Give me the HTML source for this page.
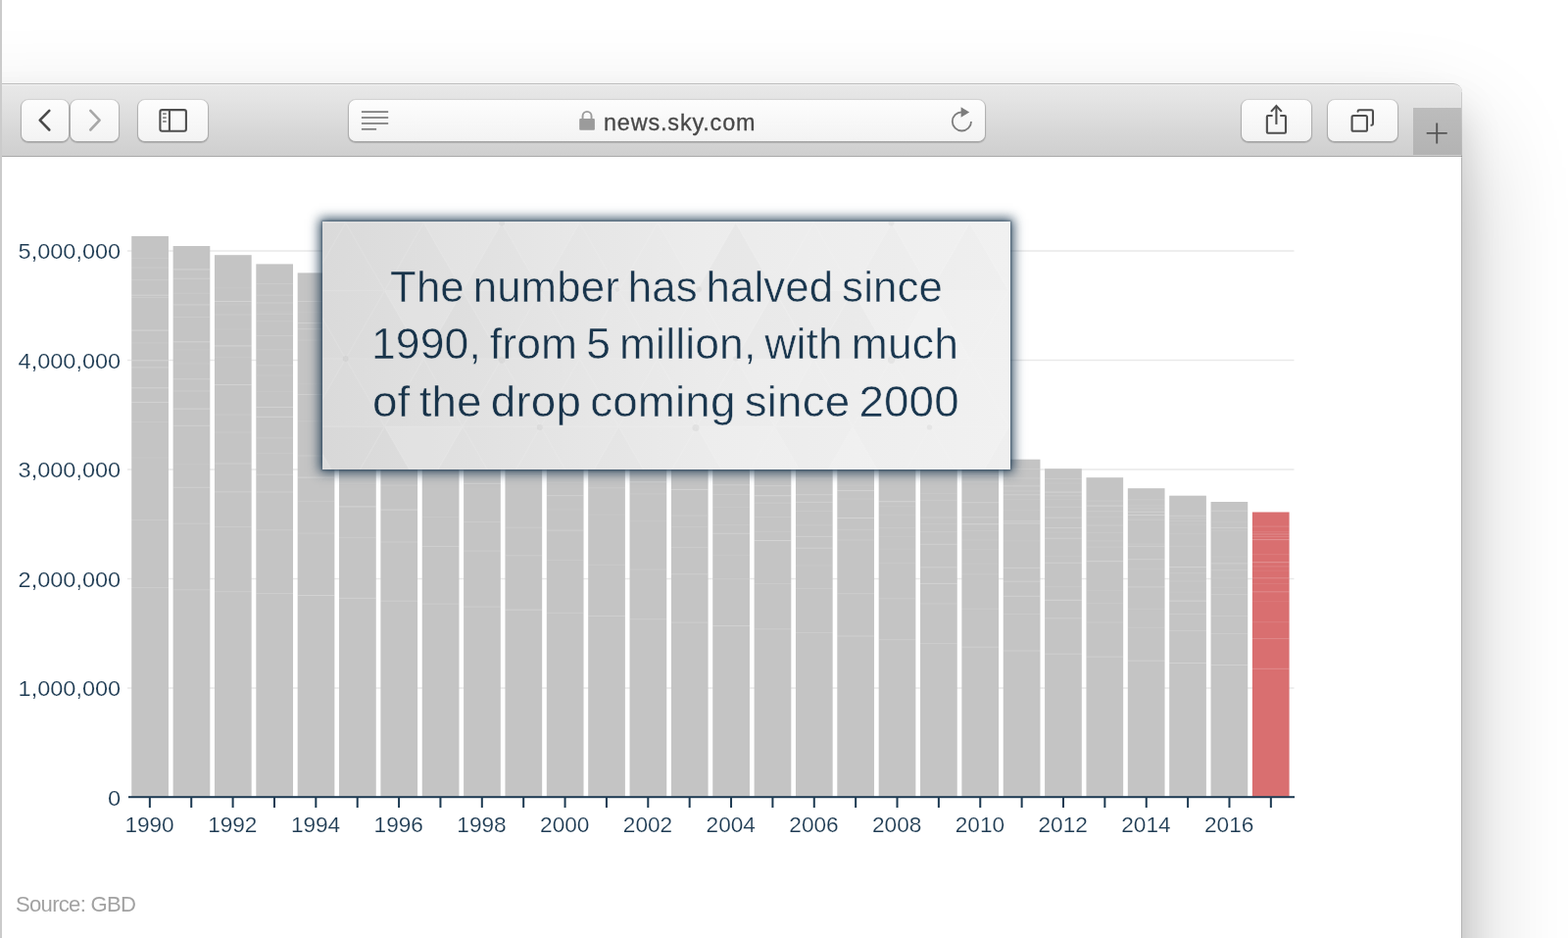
<!DOCTYPE html>
<html lang="en">
<head>
<meta charset="utf-8">
<title>news.sky.com</title>
<style>
*{box-sizing:border-box;margin:0;padding:0}
html,body{width:1600px;height:957px;overflow:hidden;background:#fff}
body{position:relative;font-family:"Liberation Sans",sans-serif}
.desk{position:absolute;left:0;top:0;width:1600px;height:957px;background:#fff;overflow:hidden}
.edge{position:absolute;left:0;top:0;width:2px;height:957px;background:#cbcbcb;z-index:9}
.win{position:absolute;left:-80px;top:85px;width:1571.8px;height:1100px;background:#fff;border-radius:9px;
  box-shadow:0 26px 40px rgba(0,0,0,.15),0 56px 110px rgba(0,0,0,.24);}
.win:after{content:"";position:absolute;top:9px;right:0;bottom:0;width:1px;background:linear-gradient(rgba(0,0,0,.1) 0,rgba(0,0,0,.12) 66px,rgba(0,0,0,.3) 67px);pointer-events:none}
.bar{position:absolute;left:0;top:0;right:0;height:75px;border-radius:9px 9px 0 0;
  background:linear-gradient(#e8e8e8 0,#e4e4e4 20%,#d6d6d6 70%,#cfcfcf 100%);
  border-top:1px solid #bdbdbd;border-bottom:1px solid #a9a9a9;box-shadow:inset 0 1px 0 #f1f1f1}
.btn{position:absolute;top:101.6px;height:42.2px;border-radius:7px;
  background:linear-gradient(#fdfdfd,#f3f3f3);
  box-shadow:0 0 0 1.2px rgba(0,0,0,.05),0 1.2px 1px .4px rgba(0,0,0,.17)}
.icons{position:absolute;left:0;top:0}
.btn .t{position:absolute;left:260.4px;top:10.1px;font-size:23.4px;line-height:26px;color:#484848;letter-spacing:.85px;white-space:nowrap;-webkit-text-stroke:.3px #484848}
.plus{position:absolute;left:1442px;top:110px;width:48.5px;height:48.4px;background:linear-gradient(#bcbcbc,#b3b3b3);}
.chart{position:absolute;left:0;top:0}
.pat{position:absolute;left:0;top:0;overflow:hidden}
.yl,.xl{font-family:"Liberation Sans",sans-serif;font-size:22.6px;fill:#1d3a52;stroke:#fff;stroke-width:.18px}
.tip{position:absolute;left:329px;top:225.5px;width:702px;height:253.5px;
  background:linear-gradient(90deg,#dadada 0,#e2e2e2 25%,#ebebeb 55%,#f1f1f1 100%);
  box-shadow:0 0 2px 1px rgba(29,58,82,.45),0 0 11px 3px rgba(29,58,82,.9);overflow:visible}
.tip p{position:absolute;font-size:43.7px;line-height:60px;color:#1b3a54;white-space:pre;word-spacing:-3.5px;letter-spacing:.15px;transform-origin:0 0;-webkit-text-stroke:.5px #fff;mix-blend-mode:multiply}
.src{position:absolute;left:16px;top:909.8px;font-size:22.1px;line-height:26px;color:#a2a2a2;letter-spacing:-.72px;white-space:nowrap}
</style>
</head>
<body>
<div class="desk">
  <div class="win"><div class="bar"></div></div>
  <div class="edge"></div>

  <div class="btn" style="left:21.6px;width:48.4px"></div>
  <div class="btn" style="left:72.1px;width:48.5px"></div>
  <div class="btn" style="left:141px;width:71.4px"></div>
  <div class="btn" style="left:355.6px;width:649.5px"><div class="t">news.sky.com</div></div>
  <div class="btn" style="left:1266.7px;width:71.1px"></div>
  <div class="btn" style="left:1354.8px;width:70.8px"></div>
  <div class="plus"></div>
  <svg class="icons" width="1600" height="170" viewBox="0 0 1600 170" fill="none">
    <path d="M50.3 112.9 L40.7 122.7 L50.3 132.5" stroke="#4a4a4a" stroke-width="2.6" stroke-linecap="round" stroke-linejoin="round"/>
    <path d="M92.3 112.9 L101.6 122.7 L92.3 132.5" stroke="#a7a7a7" stroke-width="2.6" stroke-linecap="round" stroke-linejoin="round"/>
    <rect x="163.4" y="112.1" width="26.5" height="21.6" rx="2" stroke="#4e4e4e" stroke-width="2.1"/>
    <rect x="171.85" y="112.1" width="2.1" height="21.6" fill="#4e4e4e"/>
    <g fill="#777"><rect x="166.1" y="115.3" width="3.6" height="1.6"/><rect x="166.1" y="119.3" width="3.6" height="1.6"/><rect x="166.1" y="123.2" width="3.6" height="1.6"/></g>
    <g fill="#7a7a7a"><rect x="368.9" y="113.25" width="27.3" height="1.7"/><rect x="368.9" y="119.15" width="27.3" height="1.7"/><rect x="368.9" y="125.1" width="27.3" height="1.7"/><rect x="368.9" y="130.95" width="15.2" height="1.7"/></g>
    <rect x="591.2" y="120.9" width="15.7" height="11.8" rx="1" fill="#9b9b9b"/>
    <path d="M594.55 121.5 v-3.1 a4.5 4.5 0 0 1 9 0 v3.1" stroke="#9b9b9b" stroke-width="1.9"/>
    <path d="M991 123.9 A9.6 9.6 0 1 1 981.4 114.3" stroke="#7c7c7c" stroke-width="1.8"/>
    <path d="M980.6 109.2 L989.2 114.4 L980.6 119.7 Z" fill="#7c7c7c"/>
    <g stroke="#4e4e4e" stroke-width="2.1" stroke-linejoin="round">
      <path d="M1298.6 118.05 H1293.85 a1 1 0 0 0 -1 1 V134.75 a1 1 0 0 0 1 1 H1310.95 a1 1 0 0 0 1 -1 V119.05 a1 1 0 0 0 -1 -1 H1306.2"/>
      <path d="M1302.4 126.9 V108.3"/>
      <path d="M1297 113.9 L1302.4 108.1 L1307.8 113.9" stroke-linejoin="miter"/>
      <rect x="1379.55" y="118.05" width="15.4" height="15.7" rx="1.6"/>
      <path d="M1385.55 113.6 V113.65 a1.4 1.4 0 0 1 1.4 -1.4 H1399.55 a1.4 1.4 0 0 1 1.4 1.4 V126.35 a1.4 1.4 0 0 1 -1.4 1.4 H1398.5"/>
    </g>
    <path d="M1455.7 135.9 H1476.7 M1466.2 125.4 V146.4" stroke="#555" stroke-width="1.9"/>
  </svg>

  <svg class="chart" width="1600" height="957" viewBox="0 0 1600 957">
<g fill="#e9e9e9"><rect x="130" y="255.25" width="1190.5" height="1.5"/><rect x="130" y="366.75" width="1190.5" height="1.5"/><rect x="130" y="478.25" width="1190.5" height="1.5"/><rect x="130" y="589.75" width="1190.5" height="1.5"/><rect x="130" y="701.25" width="1190.5" height="1.5"/></g>
<g><rect x="134.25" y="240.90" width="37.7" height="571.80" fill="#c4c4c4"/><rect x="176.61" y="251.00" width="37.7" height="561.70" fill="#c4c4c4"/><rect x="218.96" y="260.20" width="37.7" height="552.50" fill="#c4c4c4"/><rect x="261.32" y="269.40" width="37.7" height="543.30" fill="#c4c4c4"/><rect x="303.68" y="278.40" width="37.7" height="534.30" fill="#c4c4c4"/><rect x="346.03" y="289.59" width="37.7" height="523.11" fill="#c4c4c4"/><rect x="388.39" y="300.79" width="37.7" height="511.91" fill="#c4c4c4"/><rect x="430.75" y="311.98" width="37.7" height="500.72" fill="#c4c4c4"/><rect x="473.11" y="323.18" width="37.7" height="489.52" fill="#c4c4c4"/><rect x="515.46" y="334.37" width="37.7" height="478.33" fill="#c4c4c4"/><rect x="557.82" y="345.56" width="37.7" height="467.14" fill="#c4c4c4"/><rect x="600.18" y="356.76" width="37.7" height="455.94" fill="#c4c4c4"/><rect x="642.53" y="367.95" width="37.7" height="444.75" fill="#c4c4c4"/><rect x="684.89" y="379.15" width="37.7" height="433.55" fill="#c4c4c4"/><rect x="727.25" y="390.34" width="37.7" height="422.36" fill="#c4c4c4"/><rect x="769.61" y="401.54" width="37.7" height="411.16" fill="#c4c4c4"/><rect x="811.96" y="412.73" width="37.7" height="399.97" fill="#c4c4c4"/><rect x="854.32" y="423.92" width="37.7" height="388.78" fill="#c4c4c4"/><rect x="896.68" y="435.12" width="37.7" height="377.58" fill="#c4c4c4"/><rect x="939.03" y="446.31" width="37.7" height="366.39" fill="#c4c4c4"/><rect x="981.39" y="457.51" width="37.7" height="355.19" fill="#c4c4c4"/><rect x="1023.75" y="468.70" width="37.7" height="344.00" fill="#c4c4c4"/><rect x="1066.10" y="478.20" width="37.7" height="334.50" fill="#c4c4c4"/><rect x="1108.46" y="487.20" width="37.7" height="325.50" fill="#c4c4c4"/><rect x="1150.82" y="498.20" width="37.7" height="314.50" fill="#c4c4c4"/><rect x="1193.17" y="505.70" width="37.7" height="307.00" fill="#c4c4c4"/><rect x="1235.53" y="512.00" width="37.7" height="300.70" fill="#c4c4c4"/><rect x="1277.89" y="522.50" width="37.7" height="290.20" fill="#d96f70"/></g>
<g fill="#fff"><rect x="134.25" y="599.1" width="37.7" height="1" opacity="0.17"/><rect x="134.25" y="530.0" width="37.7" height="1" opacity="0.12"/><rect x="134.25" y="466.3" width="37.7" height="1" opacity="0.07"/><rect x="134.25" y="429.9" width="37.7" height="1" opacity="0.10"/><rect x="134.25" y="409.9" width="37.7" height="1" opacity="0.26"/><rect x="134.25" y="395.3" width="37.7" height="1" opacity="0.26"/><rect x="134.25" y="374.4" width="37.7" height="1" opacity="0.20"/><rect x="134.25" y="367.3" width="37.7" height="1" opacity="0.26"/><rect x="134.25" y="349.4" width="37.7" height="1" opacity="0.10"/><rect x="134.25" y="336.6" width="37.7" height="1" opacity="0.26"/><rect x="134.25" y="303.1" width="37.7" height="1" opacity="0.14"/><rect x="134.25" y="300.7" width="37.7" height="1" opacity="0.26"/><rect x="134.25" y="285.2" width="37.7" height="1" opacity="0.14"/><rect x="134.25" y="272.6" width="37.7" height="1" opacity="0.14"/><rect x="134.25" y="263.1" width="37.7" height="1" opacity="0.10"/><rect x="176.61" y="601.3" width="37.7" height="1" opacity="0.15"/><rect x="176.61" y="533.7" width="37.7" height="1" opacity="0.13"/><rect x="176.61" y="496.8" width="37.7" height="1" opacity="0.20"/><rect x="176.61" y="473.3" width="37.7" height="1" opacity="0.07"/><rect x="176.61" y="433.8" width="37.7" height="1" opacity="0.20"/><rect x="176.61" y="416.6" width="37.7" height="1" opacity="0.26"/><rect x="176.61" y="398.5" width="37.7" height="1" opacity="0.14"/><rect x="176.61" y="386.3" width="37.7" height="1" opacity="0.20"/><rect x="176.61" y="370.5" width="37.7" height="1" opacity="0.07"/><rect x="176.61" y="356.4" width="37.7" height="1" opacity="0.07"/><rect x="176.61" y="348.3" width="37.7" height="1" opacity="0.26"/><rect x="176.61" y="323.1" width="37.7" height="1" opacity="0.14"/><rect x="176.61" y="310.7" width="37.7" height="1" opacity="0.14"/><rect x="176.61" y="310.1" width="37.7" height="1" opacity="0.10"/><rect x="176.61" y="298.7" width="37.7" height="1" opacity="0.10"/><rect x="176.61" y="283.7" width="37.7" height="1" opacity="0.20"/><rect x="176.61" y="274.4" width="37.7" height="1" opacity="0.26"/><rect x="218.96" y="603.2" width="37.7" height="1" opacity="0.17"/><rect x="218.96" y="537.0" width="37.7" height="1" opacity="0.12"/><rect x="218.96" y="501.4" width="37.7" height="1" opacity="0.20"/><rect x="218.96" y="472.5" width="37.7" height="1" opacity="0.20"/><rect x="218.96" y="440.5" width="37.7" height="1" opacity="0.10"/><rect x="218.96" y="422.6" width="37.7" height="1" opacity="0.10"/><rect x="218.96" y="392.1" width="37.7" height="1" opacity="0.26"/><rect x="218.96" y="364.1" width="37.7" height="1" opacity="0.07"/><rect x="218.96" y="352.4" width="37.7" height="1" opacity="0.26"/><rect x="218.96" y="335.4" width="37.7" height="1" opacity="0.07"/><rect x="218.96" y="320.5" width="37.7" height="1" opacity="0.10"/><rect x="218.96" y="310.4" width="37.7" height="1" opacity="0.07"/><rect x="218.96" y="307.0" width="37.7" height="1" opacity="0.26"/><rect x="218.96" y="293.4" width="37.7" height="1" opacity="0.07"/><rect x="261.32" y="605.1" width="37.7" height="1" opacity="0.18"/><rect x="261.32" y="540.3" width="37.7" height="1" opacity="0.15"/><rect x="261.32" y="501.5" width="37.7" height="1" opacity="0.20"/><rect x="261.32" y="483.7" width="37.7" height="1" opacity="0.20"/><rect x="261.32" y="462.3" width="37.7" height="1" opacity="0.10"/><rect x="261.32" y="446.4" width="37.7" height="1" opacity="0.14"/><rect x="261.32" y="424.8" width="37.7" height="1" opacity="0.26"/><rect x="261.32" y="414.9" width="37.7" height="1" opacity="0.26"/><rect x="261.32" y="398.9" width="37.7" height="1" opacity="0.07"/><rect x="261.32" y="382.5" width="37.7" height="1" opacity="0.07"/><rect x="261.32" y="372.3" width="37.7" height="1" opacity="0.14"/><rect x="261.32" y="356.2" width="37.7" height="1" opacity="0.10"/><rect x="261.32" y="342.0" width="37.7" height="1" opacity="0.14"/><rect x="261.32" y="327.3" width="37.7" height="1" opacity="0.10"/><rect x="261.32" y="320.1" width="37.7" height="1" opacity="0.10"/><rect x="261.32" y="318.3" width="37.7" height="1" opacity="0.07"/><rect x="261.32" y="308.5" width="37.7" height="1" opacity="0.20"/><rect x="261.32" y="300.7" width="37.7" height="1" opacity="0.14"/><rect x="261.32" y="289.1" width="37.7" height="1" opacity="0.14"/><rect x="303.68" y="607.0" width="37.7" height="1" opacity="0.24"/><rect x="303.68" y="543.6" width="37.7" height="1" opacity="0.13"/><rect x="303.68" y="511.1" width="37.7" height="1" opacity="0.10"/><rect x="303.68" y="486.6" width="37.7" height="1" opacity="0.26"/><rect x="303.68" y="464.5" width="37.7" height="1" opacity="0.14"/><rect x="303.68" y="429.2" width="37.7" height="1" opacity="0.10"/><rect x="303.68" y="402.0" width="37.7" height="1" opacity="0.20"/><rect x="303.68" y="391.4" width="37.7" height="1" opacity="0.07"/><rect x="303.68" y="346.6" width="37.7" height="1" opacity="0.10"/><rect x="303.68" y="335.2" width="37.7" height="1" opacity="0.20"/><rect x="303.68" y="329.1" width="37.7" height="1" opacity="0.26"/><rect x="303.68" y="318.1" width="37.7" height="1" opacity="0.07"/><rect x="303.68" y="307.0" width="37.7" height="1" opacity="0.20"/><rect x="346.03" y="609.8" width="37.7" height="1" opacity="0.23"/><rect x="346.03" y="548.0" width="37.7" height="1" opacity="0.11"/><rect x="346.03" y="516.4" width="37.7" height="1" opacity="0.26"/><rect x="346.03" y="492.6" width="37.7" height="1" opacity="0.10"/><rect x="346.03" y="476.7" width="37.7" height="1" opacity="0.20"/><rect x="346.03" y="454.4" width="37.7" height="1" opacity="0.26"/><rect x="346.03" y="438.3" width="37.7" height="1" opacity="0.26"/><rect x="346.03" y="412.1" width="37.7" height="1" opacity="0.10"/><rect x="346.03" y="398.6" width="37.7" height="1" opacity="0.10"/><rect x="346.03" y="391.6" width="37.7" height="1" opacity="0.07"/><rect x="346.03" y="375.0" width="37.7" height="1" opacity="0.26"/><rect x="346.03" y="358.8" width="37.7" height="1" opacity="0.07"/><rect x="346.03" y="337.0" width="37.7" height="1" opacity="0.07"/><rect x="346.03" y="328.5" width="37.7" height="1" opacity="0.20"/><rect x="346.03" y="319.0" width="37.7" height="1" opacity="0.26"/><rect x="346.03" y="307.9" width="37.7" height="1" opacity="0.20"/><rect x="388.39" y="612.7" width="37.7" height="1" opacity="0.19"/><rect x="388.39" y="552.5" width="37.7" height="1" opacity="0.17"/><rect x="388.39" y="519.6" width="37.7" height="1" opacity="0.26"/><rect x="388.39" y="494.6" width="37.7" height="1" opacity="0.14"/><rect x="388.39" y="476.8" width="37.7" height="1" opacity="0.10"/><rect x="388.39" y="447.8" width="37.7" height="1" opacity="0.07"/><rect x="388.39" y="431.4" width="37.7" height="1" opacity="0.10"/><rect x="388.39" y="419.0" width="37.7" height="1" opacity="0.10"/><rect x="388.39" y="404.6" width="37.7" height="1" opacity="0.14"/><rect x="388.39" y="400.3" width="37.7" height="1" opacity="0.20"/><rect x="388.39" y="386.4" width="37.7" height="1" opacity="0.20"/><rect x="388.39" y="354.3" width="37.7" height="1" opacity="0.20"/><rect x="388.39" y="346.5" width="37.7" height="1" opacity="0.20"/><rect x="388.39" y="346.2" width="37.7" height="1" opacity="0.14"/><rect x="388.39" y="344.0" width="37.7" height="1" opacity="0.20"/><rect x="388.39" y="326.7" width="37.7" height="1" opacity="0.26"/><rect x="388.39" y="317.8" width="37.7" height="1" opacity="0.07"/><rect x="430.75" y="615.6" width="37.7" height="1" opacity="0.15"/><rect x="430.75" y="557.0" width="37.7" height="1" opacity="0.17"/><rect x="430.75" y="527.0" width="37.7" height="1" opacity="0.07"/><rect x="430.75" y="484.4" width="37.7" height="1" opacity="0.10"/><rect x="430.75" y="467.1" width="37.7" height="1" opacity="0.14"/><rect x="430.75" y="453.1" width="37.7" height="1" opacity="0.26"/><rect x="430.75" y="439.8" width="37.7" height="1" opacity="0.07"/><rect x="430.75" y="429.8" width="37.7" height="1" opacity="0.10"/><rect x="430.75" y="403.3" width="37.7" height="1" opacity="0.14"/><rect x="430.75" y="396.3" width="37.7" height="1" opacity="0.07"/><rect x="430.75" y="368.7" width="37.7" height="1" opacity="0.20"/><rect x="430.75" y="356.9" width="37.7" height="1" opacity="0.10"/><rect x="430.75" y="357.3" width="37.7" height="1" opacity="0.07"/><rect x="430.75" y="347.4" width="37.7" height="1" opacity="0.10"/><rect x="430.75" y="340.7" width="37.7" height="1" opacity="0.14"/><rect x="473.11" y="618.6" width="37.7" height="1" opacity="0.18"/><rect x="473.11" y="561.6" width="37.7" height="1" opacity="0.16"/><rect x="473.11" y="532.1" width="37.7" height="1" opacity="0.14"/><rect x="473.11" y="492.8" width="37.7" height="1" opacity="0.26"/><rect x="473.11" y="476.5" width="37.7" height="1" opacity="0.07"/><rect x="473.11" y="458.7" width="37.7" height="1" opacity="0.20"/><rect x="473.11" y="447.7" width="37.7" height="1" opacity="0.26"/><rect x="473.11" y="412.5" width="37.7" height="1" opacity="0.10"/><rect x="473.11" y="403.0" width="37.7" height="1" opacity="0.07"/><rect x="473.11" y="374.2" width="37.7" height="1" opacity="0.20"/><rect x="473.11" y="361.8" width="37.7" height="1" opacity="0.14"/><rect x="473.11" y="360.2" width="37.7" height="1" opacity="0.07"/><rect x="473.11" y="340.5" width="37.7" height="1" opacity="0.14"/><rect x="515.46" y="621.7" width="37.7" height="1" opacity="0.24"/><rect x="515.46" y="566.3" width="37.7" height="1" opacity="0.15"/><rect x="515.46" y="537.7" width="37.7" height="1" opacity="0.14"/><rect x="515.46" y="484.8" width="37.7" height="1" opacity="0.10"/><rect x="515.46" y="436.1" width="37.7" height="1" opacity="0.10"/><rect x="515.46" y="426.5" width="37.7" height="1" opacity="0.10"/><rect x="515.46" y="410.3" width="37.7" height="1" opacity="0.26"/><rect x="515.46" y="397.4" width="37.7" height="1" opacity="0.20"/><rect x="515.46" y="387.1" width="37.7" height="1" opacity="0.10"/><rect x="515.46" y="382.8" width="37.7" height="1" opacity="0.26"/><rect x="515.46" y="373.4" width="37.7" height="1" opacity="0.26"/><rect x="515.46" y="373.4" width="37.7" height="1" opacity="0.26"/><rect x="515.46" y="359.1" width="37.7" height="1" opacity="0.07"/><rect x="515.46" y="348.7" width="37.7" height="1" opacity="0.10"/><rect x="557.82" y="624.8" width="37.7" height="1" opacity="0.15"/><rect x="557.82" y="570.9" width="37.7" height="1" opacity="0.11"/><rect x="557.82" y="540.6" width="37.7" height="1" opacity="0.20"/><rect x="557.82" y="519.3" width="37.7" height="1" opacity="0.07"/><rect x="557.82" y="505.1" width="37.7" height="1" opacity="0.20"/><rect x="557.82" y="491.9" width="37.7" height="1" opacity="0.07"/><rect x="557.82" y="473.1" width="37.7" height="1" opacity="0.26"/><rect x="557.82" y="466.3" width="37.7" height="1" opacity="0.20"/><rect x="557.82" y="442.9" width="37.7" height="1" opacity="0.10"/><rect x="557.82" y="434.2" width="37.7" height="1" opacity="0.20"/><rect x="557.82" y="420.4" width="37.7" height="1" opacity="0.20"/><rect x="557.82" y="403.5" width="37.7" height="1" opacity="0.07"/><rect x="557.82" y="393.8" width="37.7" height="1" opacity="0.07"/><rect x="557.82" y="389.0" width="37.7" height="1" opacity="0.14"/><rect x="557.82" y="381.3" width="37.7" height="1" opacity="0.07"/><rect x="557.82" y="368.8" width="37.7" height="1" opacity="0.14"/><rect x="557.82" y="360.2" width="37.7" height="1" opacity="0.20"/><rect x="600.18" y="628.0" width="37.7" height="1" opacity="0.19"/><rect x="600.18" y="575.7" width="37.7" height="1" opacity="0.11"/><rect x="600.18" y="524.6" width="37.7" height="1" opacity="0.07"/><rect x="600.18" y="497.3" width="37.7" height="1" opacity="0.14"/><rect x="600.18" y="482.9" width="37.7" height="1" opacity="0.10"/><rect x="600.18" y="459.0" width="37.7" height="1" opacity="0.14"/><rect x="600.18" y="452.1" width="37.7" height="1" opacity="0.26"/><rect x="600.18" y="430.3" width="37.7" height="1" opacity="0.20"/><rect x="600.18" y="401.5" width="37.7" height="1" opacity="0.20"/><rect x="600.18" y="395.4" width="37.7" height="1" opacity="0.14"/><rect x="600.18" y="394.5" width="37.7" height="1" opacity="0.20"/><rect x="600.18" y="383.0" width="37.7" height="1" opacity="0.07"/><rect x="600.18" y="369.8" width="37.7" height="1" opacity="0.14"/><rect x="642.53" y="631.3" width="37.7" height="1" opacity="0.15"/><rect x="642.53" y="580.5" width="37.7" height="1" opacity="0.13"/><rect x="642.53" y="531.2" width="37.7" height="1" opacity="0.07"/><rect x="642.53" y="503.4" width="37.7" height="1" opacity="0.10"/><rect x="642.53" y="491.3" width="37.7" height="1" opacity="0.26"/><rect x="642.53" y="480.4" width="37.7" height="1" opacity="0.20"/><rect x="642.53" y="466.4" width="37.7" height="1" opacity="0.20"/><rect x="642.53" y="455.7" width="37.7" height="1" opacity="0.26"/><rect x="642.53" y="435.8" width="37.7" height="1" opacity="0.26"/><rect x="642.53" y="423.5" width="37.7" height="1" opacity="0.14"/><rect x="642.53" y="414.2" width="37.7" height="1" opacity="0.26"/><rect x="642.53" y="411.8" width="37.7" height="1" opacity="0.14"/><rect x="642.53" y="405.8" width="37.7" height="1" opacity="0.14"/><rect x="642.53" y="402.1" width="37.7" height="1" opacity="0.20"/><rect x="642.53" y="390.7" width="37.7" height="1" opacity="0.10"/><rect x="684.89" y="634.6" width="37.7" height="1" opacity="0.19"/><rect x="684.89" y="585.3" width="37.7" height="1" opacity="0.17"/><rect x="684.89" y="558.1" width="37.7" height="1" opacity="0.14"/><rect x="684.89" y="537.1" width="37.7" height="1" opacity="0.10"/><rect x="684.89" y="525.5" width="37.7" height="1" opacity="0.10"/><rect x="684.89" y="498.9" width="37.7" height="1" opacity="0.26"/><rect x="684.89" y="474.7" width="37.7" height="1" opacity="0.26"/><rect x="684.89" y="468.5" width="37.7" height="1" opacity="0.07"/><rect x="684.89" y="458.6" width="37.7" height="1" opacity="0.14"/><rect x="684.89" y="449.9" width="37.7" height="1" opacity="0.10"/><rect x="684.89" y="437.0" width="37.7" height="1" opacity="0.20"/><rect x="684.89" y="424.6" width="37.7" height="1" opacity="0.14"/><rect x="684.89" y="417.4" width="37.7" height="1" opacity="0.07"/><rect x="684.89" y="416.9" width="37.7" height="1" opacity="0.20"/><rect x="684.89" y="408.9" width="37.7" height="1" opacity="0.07"/><rect x="684.89" y="402.2" width="37.7" height="1" opacity="0.26"/><rect x="684.89" y="391.7" width="37.7" height="1" opacity="0.10"/><rect x="727.25" y="638.0" width="37.7" height="1" opacity="0.22"/><rect x="727.25" y="590.2" width="37.7" height="1" opacity="0.12"/><rect x="727.25" y="566.2" width="37.7" height="1" opacity="0.07"/><rect x="727.25" y="543.8" width="37.7" height="1" opacity="0.20"/><rect x="727.25" y="535.0" width="37.7" height="1" opacity="0.07"/><rect x="727.25" y="517.0" width="37.7" height="1" opacity="0.07"/><rect x="727.25" y="504.0" width="37.7" height="1" opacity="0.10"/><rect x="727.25" y="494.3" width="37.7" height="1" opacity="0.20"/><rect x="727.25" y="477.8" width="37.7" height="1" opacity="0.26"/><rect x="727.25" y="469.2" width="37.7" height="1" opacity="0.26"/><rect x="727.25" y="459.6" width="37.7" height="1" opacity="0.20"/><rect x="727.25" y="445.4" width="37.7" height="1" opacity="0.10"/><rect x="727.25" y="433.9" width="37.7" height="1" opacity="0.10"/><rect x="727.25" y="432.2" width="37.7" height="1" opacity="0.14"/><rect x="727.25" y="419.7" width="37.7" height="1" opacity="0.07"/><rect x="727.25" y="413.5" width="37.7" height="1" opacity="0.14"/><rect x="769.61" y="641.4" width="37.7" height="1" opacity="0.17"/><rect x="769.61" y="595.1" width="37.7" height="1" opacity="0.14"/><rect x="769.61" y="551.0" width="37.7" height="1" opacity="0.26"/><rect x="769.61" y="541.8" width="37.7" height="1" opacity="0.10"/><rect x="769.61" y="527.0" width="37.7" height="1" opacity="0.10"/><rect x="769.61" y="512.7" width="37.7" height="1" opacity="0.14"/><rect x="769.61" y="505.2" width="37.7" height="1" opacity="0.26"/><rect x="769.61" y="495.2" width="37.7" height="1" opacity="0.20"/><rect x="769.61" y="475.6" width="37.7" height="1" opacity="0.07"/><rect x="769.61" y="467.5" width="37.7" height="1" opacity="0.10"/><rect x="769.61" y="454.1" width="37.7" height="1" opacity="0.10"/><rect x="769.61" y="444.2" width="37.7" height="1" opacity="0.14"/><rect x="769.61" y="438.1" width="37.7" height="1" opacity="0.10"/><rect x="769.61" y="429.6" width="37.7" height="1" opacity="0.07"/><rect x="769.61" y="423.7" width="37.7" height="1" opacity="0.14"/><rect x="769.61" y="412.5" width="37.7" height="1" opacity="0.07"/><rect x="811.96" y="645.0" width="37.7" height="1" opacity="0.14"/><rect x="811.96" y="600.1" width="37.7" height="1" opacity="0.13"/><rect x="811.96" y="576.5" width="37.7" height="1" opacity="0.07"/><rect x="811.96" y="558.7" width="37.7" height="1" opacity="0.20"/><rect x="811.96" y="546.9" width="37.7" height="1" opacity="0.20"/><rect x="811.96" y="535.4" width="37.7" height="1" opacity="0.10"/><rect x="811.96" y="520.9" width="37.7" height="1" opacity="0.10"/><rect x="811.96" y="511.9" width="37.7" height="1" opacity="0.20"/><rect x="811.96" y="504.2" width="37.7" height="1" opacity="0.20"/><rect x="811.96" y="487.4" width="37.7" height="1" opacity="0.14"/><rect x="811.96" y="462.5" width="37.7" height="1" opacity="0.14"/><rect x="811.96" y="450.9" width="37.7" height="1" opacity="0.14"/><rect x="811.96" y="448.0" width="37.7" height="1" opacity="0.14"/><rect x="811.96" y="446.1" width="37.7" height="1" opacity="0.26"/><rect x="811.96" y="440.0" width="37.7" height="1" opacity="0.07"/><rect x="811.96" y="435.8" width="37.7" height="1" opacity="0.20"/><rect x="811.96" y="424.9" width="37.7" height="1" opacity="0.20"/><rect x="854.32" y="648.5" width="37.7" height="1" opacity="0.22"/><rect x="854.32" y="605.2" width="37.7" height="1" opacity="0.17"/><rect x="854.32" y="550.5" width="37.7" height="1" opacity="0.10"/><rect x="854.32" y="539.8" width="37.7" height="1" opacity="0.14"/><rect x="854.32" y="528.0" width="37.7" height="1" opacity="0.26"/><rect x="854.32" y="508.5" width="37.7" height="1" opacity="0.07"/><rect x="854.32" y="500.1" width="37.7" height="1" opacity="0.26"/><rect x="854.32" y="494.7" width="37.7" height="1" opacity="0.07"/><rect x="854.32" y="481.5" width="37.7" height="1" opacity="0.07"/><rect x="854.32" y="474.2" width="37.7" height="1" opacity="0.20"/><rect x="854.32" y="459.6" width="37.7" height="1" opacity="0.10"/><rect x="854.32" y="453.7" width="37.7" height="1" opacity="0.07"/><rect x="854.32" y="451.1" width="37.7" height="1" opacity="0.14"/><rect x="854.32" y="443.3" width="37.7" height="1" opacity="0.14"/><rect x="854.32" y="438.5" width="37.7" height="1" opacity="0.10"/><rect x="896.68" y="652.2" width="37.7" height="1" opacity="0.16"/><rect x="896.68" y="610.3" width="37.7" height="1" opacity="0.13"/><rect x="896.68" y="574.2" width="37.7" height="1" opacity="0.10"/><rect x="896.68" y="559.7" width="37.7" height="1" opacity="0.07"/><rect x="896.68" y="546.8" width="37.7" height="1" opacity="0.07"/><rect x="896.68" y="538.1" width="37.7" height="1" opacity="0.10"/><rect x="896.68" y="525.1" width="37.7" height="1" opacity="0.07"/><rect x="896.68" y="516.2" width="37.7" height="1" opacity="0.07"/><rect x="896.68" y="511.2" width="37.7" height="1" opacity="0.26"/><rect x="896.68" y="481.7" width="37.7" height="1" opacity="0.07"/><rect x="896.68" y="475.3" width="37.7" height="1" opacity="0.26"/><rect x="896.68" y="452.9" width="37.7" height="1" opacity="0.07"/><rect x="896.68" y="445.9" width="37.7" height="1" opacity="0.14"/><rect x="939.03" y="655.9" width="37.7" height="1" opacity="0.16"/><rect x="939.03" y="615.4" width="37.7" height="1" opacity="0.13"/><rect x="939.03" y="594.9" width="37.7" height="1" opacity="0.26"/><rect x="939.03" y="578.4" width="37.7" height="1" opacity="0.20"/><rect x="939.03" y="554.8" width="37.7" height="1" opacity="0.20"/><rect x="939.03" y="542.2" width="37.7" height="1" opacity="0.14"/><rect x="939.03" y="534.0" width="37.7" height="1" opacity="0.07"/><rect x="939.03" y="527.5" width="37.7" height="1" opacity="0.14"/><rect x="939.03" y="510.1" width="37.7" height="1" opacity="0.10"/><rect x="939.03" y="503.0" width="37.7" height="1" opacity="0.07"/><rect x="939.03" y="479.0" width="37.7" height="1" opacity="0.10"/><rect x="939.03" y="474.9" width="37.7" height="1" opacity="0.20"/><rect x="939.03" y="466.8" width="37.7" height="1" opacity="0.14"/><rect x="981.39" y="659.7" width="37.7" height="1" opacity="0.17"/><rect x="981.39" y="620.6" width="37.7" height="1" opacity="0.12"/><rect x="981.39" y="585.4" width="37.7" height="1" opacity="0.10"/><rect x="981.39" y="574.6" width="37.7" height="1" opacity="0.07"/><rect x="981.39" y="559.9" width="37.7" height="1" opacity="0.07"/><rect x="981.39" y="550.5" width="37.7" height="1" opacity="0.07"/><rect x="981.39" y="540.9" width="37.7" height="1" opacity="0.10"/><rect x="981.39" y="534.2" width="37.7" height="1" opacity="0.26"/><rect x="981.39" y="527.3" width="37.7" height="1" opacity="0.20"/><rect x="981.39" y="512.2" width="37.7" height="1" opacity="0.20"/><rect x="981.39" y="490.6" width="37.7" height="1" opacity="0.10"/><rect x="981.39" y="491.7" width="37.7" height="1" opacity="0.07"/><rect x="981.39" y="484.7" width="37.7" height="1" opacity="0.20"/><rect x="981.39" y="482.8" width="37.7" height="1" opacity="0.14"/><rect x="981.39" y="474.5" width="37.7" height="1" opacity="0.10"/><rect x="981.39" y="469.5" width="37.7" height="1" opacity="0.20"/><rect x="1023.75" y="663.5" width="37.7" height="1" opacity="0.19"/><rect x="1023.75" y="625.9" width="37.7" height="1" opacity="0.12"/><rect x="1023.75" y="607.8" width="37.7" height="1" opacity="0.20"/><rect x="1023.75" y="592.7" width="37.7" height="1" opacity="0.20"/><rect x="1023.75" y="578.9" width="37.7" height="1" opacity="0.20"/><rect x="1023.75" y="551.3" width="37.7" height="1" opacity="0.07"/><rect x="1023.75" y="533.5" width="37.7" height="1" opacity="0.26"/><rect x="1023.75" y="531.3" width="37.7" height="1" opacity="0.20"/><rect x="1023.75" y="520.2" width="37.7" height="1" opacity="0.07"/><rect x="1023.75" y="509.2" width="37.7" height="1" opacity="0.07"/><rect x="1023.75" y="504.3" width="37.7" height="1" opacity="0.20"/><rect x="1023.75" y="500.5" width="37.7" height="1" opacity="0.10"/><rect x="1023.75" y="494.8" width="37.7" height="1" opacity="0.10"/><rect x="1023.75" y="495.6" width="37.7" height="1" opacity="0.14"/><rect x="1023.75" y="487.4" width="37.7" height="1" opacity="0.14"/><rect x="1023.75" y="477.9" width="37.7" height="1" opacity="0.14"/><rect x="1066.10" y="666.7" width="37.7" height="1" opacity="0.19"/><rect x="1066.10" y="630.3" width="37.7" height="1" opacity="0.17"/><rect x="1066.10" y="611.8" width="37.7" height="1" opacity="0.26"/><rect x="1066.10" y="598.2" width="37.7" height="1" opacity="0.10"/><rect x="1066.10" y="573.8" width="37.7" height="1" opacity="0.20"/><rect x="1066.10" y="566.9" width="37.7" height="1" opacity="0.07"/><rect x="1066.10" y="548.7" width="37.7" height="1" opacity="0.20"/><rect x="1066.10" y="542.6" width="37.7" height="1" opacity="0.07"/><rect x="1066.10" y="538.0" width="37.7" height="1" opacity="0.20"/><rect x="1066.10" y="527.6" width="37.7" height="1" opacity="0.20"/><rect x="1066.10" y="516.8" width="37.7" height="1" opacity="0.14"/><rect x="1066.10" y="509.2" width="37.7" height="1" opacity="0.07"/><rect x="1066.10" y="505.3" width="37.7" height="1" opacity="0.14"/><rect x="1066.10" y="501.6" width="37.7" height="1" opacity="0.26"/><rect x="1066.10" y="492.7" width="37.7" height="1" opacity="0.07"/><rect x="1066.10" y="487.9" width="37.7" height="1" opacity="0.14"/><rect x="1108.46" y="669.6" width="37.7" height="1" opacity="0.20"/><rect x="1108.46" y="634.4" width="37.7" height="1" opacity="0.14"/><rect x="1108.46" y="615.2" width="37.7" height="1" opacity="0.10"/><rect x="1108.46" y="602.2" width="37.7" height="1" opacity="0.07"/><rect x="1108.46" y="572.2" width="37.7" height="1" opacity="0.26"/><rect x="1108.46" y="557.6" width="37.7" height="1" opacity="0.10"/><rect x="1108.46" y="551.4" width="37.7" height="1" opacity="0.10"/><rect x="1108.46" y="543.0" width="37.7" height="1" opacity="0.07"/><rect x="1108.46" y="535.5" width="37.7" height="1" opacity="0.14"/><rect x="1108.46" y="527.2" width="37.7" height="1" opacity="0.07"/><rect x="1108.46" y="521.2" width="37.7" height="1" opacity="0.14"/><rect x="1108.46" y="515.6" width="37.7" height="1" opacity="0.26"/><rect x="1108.46" y="510.5" width="37.7" height="1" opacity="0.10"/><rect x="1150.82" y="673.6" width="37.7" height="1" opacity="0.23"/><rect x="1150.82" y="639.7" width="37.7" height="1" opacity="0.11"/><rect x="1150.82" y="620.8" width="37.7" height="1" opacity="0.10"/><rect x="1150.82" y="598.4" width="37.7" height="1" opacity="0.20"/><rect x="1150.82" y="580.2" width="37.7" height="1" opacity="0.07"/><rect x="1150.82" y="570.2" width="37.7" height="1" opacity="0.20"/><rect x="1150.82" y="556.8" width="37.7" height="1" opacity="0.20"/><rect x="1150.82" y="554.6" width="37.7" height="1" opacity="0.10"/><rect x="1150.82" y="529.7" width="37.7" height="1" opacity="0.14"/><rect x="1150.82" y="525.0" width="37.7" height="1" opacity="0.26"/><rect x="1150.82" y="521.7" width="37.7" height="1" opacity="0.26"/><rect x="1150.82" y="518.5" width="37.7" height="1" opacity="0.10"/><rect x="1150.82" y="515.4" width="37.7" height="1" opacity="0.10"/><rect x="1150.82" y="509.3" width="37.7" height="1" opacity="0.10"/><rect x="1193.17" y="676.0" width="37.7" height="1" opacity="0.23"/><rect x="1193.17" y="643.1" width="37.7" height="1" opacity="0.16"/><rect x="1193.17" y="626.0" width="37.7" height="1" opacity="0.14"/><rect x="1193.17" y="612.6" width="37.7" height="1" opacity="0.26"/><rect x="1193.17" y="603.6" width="37.7" height="1" opacity="0.07"/><rect x="1193.17" y="592.4" width="37.7" height="1" opacity="0.10"/><rect x="1193.17" y="584.2" width="37.7" height="1" opacity="0.10"/><rect x="1193.17" y="578.1" width="37.7" height="1" opacity="0.26"/><rect x="1193.17" y="556.8" width="37.7" height="1" opacity="0.10"/><rect x="1193.17" y="544.2" width="37.7" height="1" opacity="0.07"/><rect x="1193.17" y="534.7" width="37.7" height="1" opacity="0.07"/><rect x="1193.17" y="531.1" width="37.7" height="1" opacity="0.10"/><rect x="1193.17" y="528.0" width="37.7" height="1" opacity="0.07"/><rect x="1193.17" y="525.8" width="37.7" height="1" opacity="0.20"/><rect x="1235.53" y="678.0" width="37.7" height="1" opacity="0.22"/><rect x="1235.53" y="645.9" width="37.7" height="1" opacity="0.17"/><rect x="1235.53" y="627.9" width="37.7" height="1" opacity="0.14"/><rect x="1235.53" y="606.1" width="37.7" height="1" opacity="0.14"/><rect x="1235.53" y="598.8" width="37.7" height="1" opacity="0.07"/><rect x="1235.53" y="589.4" width="37.7" height="1" opacity="0.07"/><rect x="1235.53" y="581.2" width="37.7" height="1" opacity="0.14"/><rect x="1235.53" y="574.4" width="37.7" height="1" opacity="0.20"/><rect x="1235.53" y="567.4" width="37.7" height="1" opacity="0.07"/><rect x="1235.53" y="540.8" width="37.7" height="1" opacity="0.07"/><rect x="1235.53" y="537.9" width="37.7" height="1" opacity="0.20"/><rect x="1235.53" y="532.1" width="37.7" height="1" opacity="0.07"/><rect x="1235.53" y="520.7" width="37.7" height="1" opacity="0.20"/><rect x="1277.89" y="681.8" width="37.7" height="1" opacity="0.20"/><rect x="1277.89" y="651.1" width="37.7" height="1" opacity="0.18"/><rect x="1277.89" y="634.2" width="37.7" height="1" opacity="0.10"/><rect x="1277.89" y="613.2" width="37.7" height="1" opacity="0.07"/><rect x="1277.89" y="603.3" width="37.7" height="1" opacity="0.20"/><rect x="1277.89" y="595.0" width="37.7" height="1" opacity="0.07"/><rect x="1277.89" y="589.3" width="37.7" height="1" opacity="0.20"/><rect x="1277.89" y="581.7" width="37.7" height="1" opacity="0.07"/><rect x="1277.89" y="577.4" width="37.7" height="1" opacity="0.14"/><rect x="1277.89" y="573.2" width="37.7" height="1" opacity="0.26"/><rect x="1277.89" y="565.2" width="37.7" height="1" opacity="0.10"/><rect x="1277.89" y="550.1" width="37.7" height="1" opacity="0.26"/><rect x="1277.89" y="547.1" width="37.7" height="1" opacity="0.14"/><rect x="1277.89" y="544.5" width="37.7" height="1" opacity="0.20"/><rect x="1277.89" y="542.2" width="37.7" height="1" opacity="0.10"/><rect x="1277.89" y="536.6" width="37.7" height="1" opacity="0.14"/></g>
<rect x="131" y="812.2" width="1190" height="2" fill="#1d3a52"/>
<g fill="#1d3a52"><rect x="151.85" y="813" width="2" height="11"/><rect x="194.22" y="813" width="2" height="11"/><rect x="236.59" y="813" width="2" height="11"/><rect x="278.96" y="813" width="2" height="11"/><rect x="321.33" y="813" width="2" height="11"/><rect x="363.70" y="813" width="2" height="11"/><rect x="406.07" y="813" width="2" height="11"/><rect x="448.44" y="813" width="2" height="11"/><rect x="490.81" y="813" width="2" height="11"/><rect x="533.18" y="813" width="2" height="11"/><rect x="575.55" y="813" width="2" height="11"/><rect x="617.92" y="813" width="2" height="11"/><rect x="660.29" y="813" width="2" height="11"/><rect x="702.66" y="813" width="2" height="11"/><rect x="745.03" y="813" width="2" height="11"/><rect x="787.40" y="813" width="2" height="11"/><rect x="829.77" y="813" width="2" height="11"/><rect x="872.14" y="813" width="2" height="11"/><rect x="914.51" y="813" width="2" height="11"/><rect x="956.88" y="813" width="2" height="11"/><rect x="999.25" y="813" width="2" height="11"/><rect x="1041.62" y="813" width="2" height="11"/><rect x="1083.99" y="813" width="2" height="11"/><rect x="1126.36" y="813" width="2" height="11"/><rect x="1168.73" y="813" width="2" height="11"/><rect x="1211.10" y="813" width="2" height="11"/><rect x="1253.47" y="813" width="2" height="11"/><rect x="1295.84" y="813" width="2" height="11"/></g>
<g class="yl" text-anchor="end"><text x="123.2" y="264.1" textLength="104.6" lengthAdjust="spacingAndGlyphs">5,000,000</text><text x="123.2" y="375.6" textLength="104.6" lengthAdjust="spacingAndGlyphs">4,000,000</text><text x="123.2" y="487.1" textLength="104.6" lengthAdjust="spacingAndGlyphs">3,000,000</text><text x="123.2" y="598.6" textLength="104.6" lengthAdjust="spacingAndGlyphs">2,000,000</text><text x="123.2" y="710.1" textLength="104.6" lengthAdjust="spacingAndGlyphs">1,000,000</text><text x="123.2" y="821.6" textLength="13.2" lengthAdjust="spacingAndGlyphs">0</text></g>
<g class="xl" text-anchor="middle"><text x="152.55" y="849.3" textLength="50.3" lengthAdjust="spacingAndGlyphs">1990</text><text x="237.29" y="849.3" textLength="50.3" lengthAdjust="spacingAndGlyphs">1992</text><text x="322.03" y="849.3" textLength="50.3" lengthAdjust="spacingAndGlyphs">1994</text><text x="406.77" y="849.3" textLength="50.3" lengthAdjust="spacingAndGlyphs">1996</text><text x="491.51" y="849.3" textLength="50.3" lengthAdjust="spacingAndGlyphs">1998</text><text x="576.25" y="849.3" textLength="50.3" lengthAdjust="spacingAndGlyphs">2000</text><text x="660.99" y="849.3" textLength="50.3" lengthAdjust="spacingAndGlyphs">2002</text><text x="745.73" y="849.3" textLength="50.3" lengthAdjust="spacingAndGlyphs">2004</text><text x="830.47" y="849.3" textLength="50.3" lengthAdjust="spacingAndGlyphs">2006</text><text x="915.21" y="849.3" textLength="50.3" lengthAdjust="spacingAndGlyphs">2008</text><text x="999.95" y="849.3" textLength="50.3" lengthAdjust="spacingAndGlyphs">2010</text><text x="1084.69" y="849.3" textLength="50.3" lengthAdjust="spacingAndGlyphs">2012</text><text x="1169.43" y="849.3" textLength="50.3" lengthAdjust="spacingAndGlyphs">2014</text><text x="1254.17" y="849.3" textLength="50.3" lengthAdjust="spacingAndGlyphs">2016</text></g>
</svg>

  <div class="tip">
    <svg class="pat" width="702" height="253.5" viewBox="0 0 702 253.5">
<g><path d="M-16.1 -68.0h79.6l-39.8 -69.3z" fill="#fff" opacity="0.120"/><path d="M-16.1 -68.0h79.6l-39.8 69.3z" fill="#fff" opacity="0.060"/><path d="M63.5 -68.0h79.6l-39.8 69.3z" fill="#fff" opacity="0.060"/><path d="M222.7 -68.0h79.6l-39.8 -69.3z" fill="#fff" opacity="0.040"/><path d="M302.3 -68.0h79.6l-39.8 69.3z" fill="#000" opacity="0.008"/><path d="M381.9 -68.0h79.6l-39.8 -69.3z" fill="#fff" opacity="0.040"/><path d="M620.7 -68.0h79.6l-39.8 -69.3z" fill="#000" opacity="0.008"/><path d="M700.3 -68.0h79.6l-39.8 -69.3z" fill="#000" opacity="0.017"/><path d="M779.9 -68.0h79.6l-39.8 69.3z" fill="#000" opacity="0.006"/><path d="M-55.9 1.3h79.6l-39.8 -69.3z" fill="#fff" opacity="0.120"/><path d="M103.3 1.3h79.6l-39.8 -69.3z" fill="#fff" opacity="0.060"/><path d="M103.3 1.3h79.6l-39.8 69.3z" fill="#fff" opacity="0.120"/><path d="M182.9 1.3h79.6l-39.8 -69.3z" fill="#fff" opacity="0.120"/><path d="M182.9 1.3h79.6l-39.8 69.3z" fill="#fff" opacity="0.090"/><path d="M342.1 1.3h79.6l-39.8 69.3z" fill="#fff" opacity="0.060"/><path d="M501.3 1.3h79.6l-39.8 -69.3z" fill="#000" opacity="0.008"/><path d="M580.9 1.3h79.6l-39.8 69.3z" fill="#fff" opacity="0.060"/><path d="M740.1 1.3h79.6l-39.8 -69.3z" fill="#fff" opacity="0.040"/><path d="M740.1 1.3h79.6l-39.8 69.3z" fill="#000" opacity="0.013"/><path d="M-95.7 70.6h79.6l-39.8 -69.3z" fill="#fff" opacity="0.040"/><path d="M63.5 70.6h79.6l-39.8 69.3z" fill="#fff" opacity="0.120"/><path d="M381.9 70.6h79.6l-39.8 -69.3z" fill="#000" opacity="0.017"/><path d="M461.5 70.6h79.6l-39.8 69.3z" fill="#000" opacity="0.013"/><path d="M541.1 70.6h79.6l-39.8 -69.3z" fill="#000" opacity="0.008"/><path d="M620.7 70.6h79.6l-39.8 -69.3z" fill="#000" opacity="0.008"/><path d="M-135.5 139.9h79.6l-39.8 -69.3z" fill="#fff" opacity="0.120"/><path d="M-135.5 139.9h79.6l-39.8 69.3z" fill="#fff" opacity="0.120"/><path d="M-55.9 139.9h79.6l-39.8 69.3z" fill="#fff" opacity="0.040"/><path d="M23.7 139.9h79.6l-39.8 69.3z" fill="#fff" opacity="0.040"/><path d="M103.3 139.9h79.6l-39.8 -69.3z" fill="#000" opacity="0.008"/><path d="M342.1 139.9h79.6l-39.8 69.3z" fill="#fff" opacity="0.040"/><path d="M421.7 139.9h79.6l-39.8 -69.3z" fill="#000" opacity="0.013"/><path d="M421.7 139.9h79.6l-39.8 69.3z" fill="#fff" opacity="0.060"/><path d="M501.3 139.9h79.6l-39.8 -69.3z" fill="#000" opacity="0.017"/><path d="M501.3 139.9h79.6l-39.8 69.3z" fill="#fff" opacity="0.040"/><path d="M580.9 139.9h79.6l-39.8 -69.3z" fill="#fff" opacity="0.120"/><path d="M819.7 139.9h79.6l-39.8 69.3z" fill="#000" opacity="0.008"/><path d="M-95.7 209.2h79.6l-39.8 -69.3z" fill="#fff" opacity="0.090"/><path d="M-16.1 209.2h79.6l-39.8 69.3z" fill="#000" opacity="0.006"/><path d="M63.5 209.2h79.6l-39.8 69.3z" fill="#fff" opacity="0.120"/><path d="M381.9 209.2h79.6l-39.8 69.3z" fill="#fff" opacity="0.120"/><path d="M461.5 209.2h79.6l-39.8 -69.3z" fill="#fff" opacity="0.040"/><path d="M620.7 209.2h79.6l-39.8 69.3z" fill="#fff" opacity="0.040"/><path d="M700.3 209.2h79.6l-39.8 69.3z" fill="#000" opacity="0.013"/><path d="M-135.5 278.5h79.6l-39.8 -69.3z" fill="#000" opacity="0.013"/><path d="M-55.9 278.5h79.6l-39.8 -69.3z" fill="#fff" opacity="0.090"/><path d="M23.7 278.5h79.6l-39.8 -69.3z" fill="#000" opacity="0.008"/><path d="M262.5 278.5h79.6l-39.8 -69.3z" fill="#000" opacity="0.006"/><path d="M262.5 278.5h79.6l-39.8 69.3z" fill="#000" opacity="0.013"/><path d="M421.7 278.5h79.6l-39.8 -69.3z" fill="#fff" opacity="0.120"/><path d="M501.3 278.5h79.6l-39.8 -69.3z" fill="#fff" opacity="0.120"/><path d="M501.3 278.5h79.6l-39.8 69.3z" fill="#000" opacity="0.013"/><path d="M580.9 278.5h79.6l-39.8 69.3z" fill="#fff" opacity="0.090"/><path d="M660.5 278.5h79.6l-39.8 -69.3z" fill="#000" opacity="0.006"/><path d="M740.1 278.5h79.6l-39.8 69.3z" fill="#fff" opacity="0.090"/><path d="M-95.7 347.8h79.6l-39.8 -69.3z" fill="#fff" opacity="0.120"/><path d="M-16.1 347.8h79.6l-39.8 -69.3z" fill="#000" opacity="0.013"/><path d="M-16.1 347.8h79.6l-39.8 69.3z" fill="#000" opacity="0.008"/><path d="M63.5 347.8h79.6l-39.8 69.3z" fill="#fff" opacity="0.120"/><path d="M222.7 347.8h79.6l-39.8 -69.3z" fill="#fff" opacity="0.060"/><path d="M222.7 347.8h79.6l-39.8 69.3z" fill="#fff" opacity="0.060"/><path d="M302.3 347.8h79.6l-39.8 -69.3z" fill="#fff" opacity="0.120"/><path d="M381.9 347.8h79.6l-39.8 -69.3z" fill="#fff" opacity="0.040"/><path d="M461.5 347.8h79.6l-39.8 -69.3z" fill="#fff" opacity="0.090"/><path d="M461.5 347.8h79.6l-39.8 69.3z" fill="#fff" opacity="0.060"/><path d="M541.1 347.8h79.6l-39.8 -69.3z" fill="#fff" opacity="0.040"/><path d="M541.1 347.8h79.6l-39.8 69.3z" fill="#000" opacity="0.006"/><path d="M620.7 347.8h79.6l-39.8 69.3z" fill="#fff" opacity="0.090"/><path d="M700.3 347.8h79.6l-39.8 -69.3z" fill="#fff" opacity="0.040"/><path d="M859.5 347.8h79.6l-39.8 -69.3z" fill="#000" opacity="0.017"/></g>
<path d="M-10 -68.0H712M-10 1.3H712M-10 70.6H712M-10 139.9H712M-10 209.2H712M-10 278.5H712M-10 347.8H712M-613.1 -137.3L-294.7 417.1M-613.1 417.1L-294.7 -137.3M-533.5 -137.3L-215.1 417.1M-533.5 417.1L-215.1 -137.3M-453.9 -137.3L-135.5 417.1M-453.9 417.1L-135.5 -137.3M-374.3 -137.3L-55.9 417.1M-374.3 417.1L-55.9 -137.3M-294.7 -137.3L23.7 417.1M-294.7 417.1L23.7 -137.3M-215.1 -137.3L103.3 417.1M-215.1 417.1L103.3 -137.3M-135.5 -137.3L182.9 417.1M-135.5 417.1L182.9 -137.3M-55.9 -137.3L262.5 417.1M-55.9 417.1L262.5 -137.3M23.7 -137.3L342.1 417.1M23.7 417.1L342.1 -137.3M103.3 -137.3L421.7 417.1M103.3 417.1L421.7 -137.3M182.9 -137.3L501.3 417.1M182.9 417.1L501.3 -137.3M262.5 -137.3L580.9 417.1M262.5 417.1L580.9 -137.3M342.1 -137.3L660.5 417.1M342.1 417.1L660.5 -137.3M421.7 -137.3L740.1 417.1M421.7 417.1L740.1 -137.3M501.3 -137.3L819.7 417.1M501.3 417.1L819.7 -137.3M580.9 -137.3L899.3 417.1M580.9 417.1L899.3 -137.3M660.5 -137.3L978.9 417.1M660.5 417.1L978.9 -137.3M740.1 -137.3L1058.5 417.1M740.1 417.1L1058.5 -137.3M819.7 -137.3L1138.1 417.1M819.7 417.1L1138.1 -137.3M899.3 -137.3L1217.7 417.1M899.3 417.1L1217.7 -137.3" stroke="#fff" stroke-opacity=".11" stroke-width="1.4" fill="none"/>
<g fill="#000" opacity=".04"><circle cx="23.7" cy="139.9" r="3"/><circle cx="183.0" cy="141.3" r="3.4"/><circle cx="221.8" cy="210.0" r="3"/><circle cx="183.0" cy="1.5" r="3"/><circle cx="221.8" cy="69.3" r="3"/><circle cx="421.7" cy="139.9" r="2.6"/><circle cx="580.5" cy="141.3" r="3.6"/><circle cx="381.0" cy="210.5" r="3.6"/><circle cx="619.5" cy="210.0" r="2.8"/><circle cx="580.5" cy="1.5" r="3"/><circle cx="384.0" cy="69.3" r="3"/><circle cx="301.0" cy="69.3" r="2.4"/></g>
</svg>
    <p style="left:69.1px;top:37.4px;transform:scaleX(1.0015)">The number has halved since</p>
    <p style="left:50px;top:95.5px;transform:scaleX(1.0165)">1990, from 5 million, with much</p>
    <p style="left:51px;top:154.1px;transform:scaleX(1.0465)">of the drop coming since 2000</p>
  </div>

  <div class="src">Source: GBD</div>
</div>
</body>
</html>
